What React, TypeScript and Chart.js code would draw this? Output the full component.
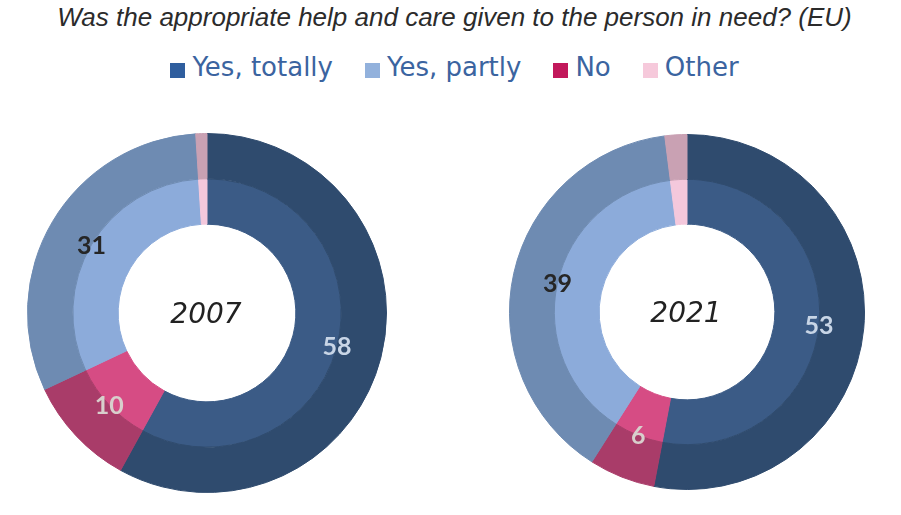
import { useEffect, useRef } from "react";
import { Chart, registerables } from "chart.js";

Chart.register(...registerables);

// slices in clockwise order from 12 o'clock
const CATEGORIES = ["Yes, totally", "No", "Yes, partly", "Other"];
const LEGEND_ORDER = ["Yes, totally", "Yes, partly", "No", "Other"];
const VALUES_2007 = [58, 10, 31, 1];
const VALUES_2021 = [53, 6, 39, 2];
const YEARS = ["2007", "2021"];

const OUTER: Record<string, string> = {
  "Yes, totally": "#2f4b6e",
  "Yes, partly": "#6e8bb2",
  No: "#a93c69",
  Other: "#c9a1b3",
};
const INNER: Record<string, string> = {
  "Yes, totally": "#3b5b86",
  "Yes, partly": "#8cabda",
  No: "#d64c84",
  Other: "#f4c8dc",
};
const LEGEND_COLOR: Record<string, string> = {
  "Yes, totally": "#2f5e9e",
  "Yes, partly": "#92b1dc",
  No: "#c2185b",
  Other: "#f6c9db",
};
const LABEL_COLOR: Record<string, string> = {
  "Yes, totally": "#c8d5e6",
  "Yes, partly": "#262626",
  No: "#d8cfcc",
  Other: "transparent",
};

const valueLabels = {
  id: "valueLabels",
  afterDatasetsDraw(chart: Chart) {
    const ctx = chart.ctx;
    const meta = chart.getDatasetMeta(0);
    const values = chart.data.datasets[0].data as number[];
    ctx.save();
    ctx.font = "bold 25px Lato";
    ctx.textAlign = "center";
    ctx.textBaseline = "middle";
    meta.data.forEach((el: any, i: number) => {
      const cat = CATEGORIES[i];
      if (cat === "Other") return;
      const { x, y, startAngle, endAngle, innerRadius } = el.getProps(
        ["x", "y", "startAngle", "endAngle", "innerRadius"],
        true
      );
      const mid = (startAngle + endAngle) / 2;
      ctx.fillStyle = LABEL_COLOR[cat];
      ctx.fillText(String(values[i]), x + innerRadius * Math.cos(mid), y + innerRadius * Math.sin(mid) + 1);
    });
    ctx.restore();
  },
};

const centerText = {
  id: "centerText",
  afterDraw(chart: Chart) {
    const ctx = chart.ctx;
    const el: any = chart.getDatasetMeta(0).data[0];
    if (!el) return;
    ctx.save();
    ctx.font = "italic 28px 'DejaVu Sans'";
    ctx.fillStyle = "#222222";
    ctx.textAlign = "center";
    ctx.textBaseline = "middle";
    ctx.fillText((chart.options.plugins as any).centerText.text, el.x - 1, el.y + 3);
    ctx.restore();
  },
};

function Donut({ values, year }: { values: number[]; year: string }) {
  const canvasRef = useRef<HTMLCanvasElement>(null);

  useEffect(() => {
    if (!canvasRef.current) return;
    const outer = CATEGORIES.map((c) => OUTER[c]);
    const inner = CATEGORIES.map((c) => INNER[c]);
    const chart = new Chart(canvasRef.current, {
      type: "doughnut",
      data: {
        labels: CATEGORIES,
        datasets: [
          { data: values, backgroundColor: outer, borderColor: outer, borderWidth: 1, hoverOffset: 0 },
          { data: values, backgroundColor: inner, borderColor: inner, borderWidth: 1, hoverOffset: 0 },
        ],
      },
      options: {
        responsive: true,
        maintainAspectRatio: false,
        animation: false,
        cutout: "49.5%",
        layout: { padding: 0 },
        plugins: {
          legend: { display: false },
          tooltip: { enabled: false },
          centerText: { text: year },
        } as any,
      },
      plugins: [valueLabels, centerText],
    });
    return () => chart.destroy();
  }, [values, year]);

  return <canvas ref={canvasRef} />;
}

export default function App() {
  return (
    <div style={{ position: "absolute", left: 0, top: 0, width: 901, height: 515, background: "#fff", overflow: "hidden" }}>
      <div
        style={{
          position: "absolute",
          top: 2,
          left: 0,
          width: 901,
          textAlign: "center",
          fontFamily: "'Liberation Sans', Arial, sans-serif",
          fontStyle: "italic",
          fontSize: 26,
          color: "#2b2b2b",
          paddingLeft: 4,
          whiteSpace: "nowrap",
        }}
      >
        Was the appropriate help and care given to the person in need? (EU)
      </div>
      <div
        style={{
          position: "absolute",
          top: 52,
          left: 0,
          width: 901,
          display: "flex",
          justifyContent: "center",
          fontFamily: "'DejaVu Sans', sans-serif",
          fontSize: 26,
          color: "#3b64a0",
          paddingLeft: 8,
          boxSizing: "border-box",
        }}
      >
        {LEGEND_ORDER.map((c) => (
          <div key={c} style={{ display: "flex", alignItems: "center", margin: "0 16px" }}>
            <span style={{ display: "inline-block", width: 15, height: 15, background: LEGEND_COLOR[c], marginRight: 7, marginTop: 6 }} />
            <span>{c}</span>
          </div>
        ))}
      </div>
      <div style={{ position: "absolute", left: 27, top: 133, width: 360, height: 360 }}>
        <Donut values={VALUES_2007} year={YEARS[0]} />
      </div>
      <div style={{ position: "absolute", left: 509, top: 134, width: 356, height: 356 }}>
        <Donut values={VALUES_2021} year={YEARS[1]} />
      </div>
    </div>
  );
}
